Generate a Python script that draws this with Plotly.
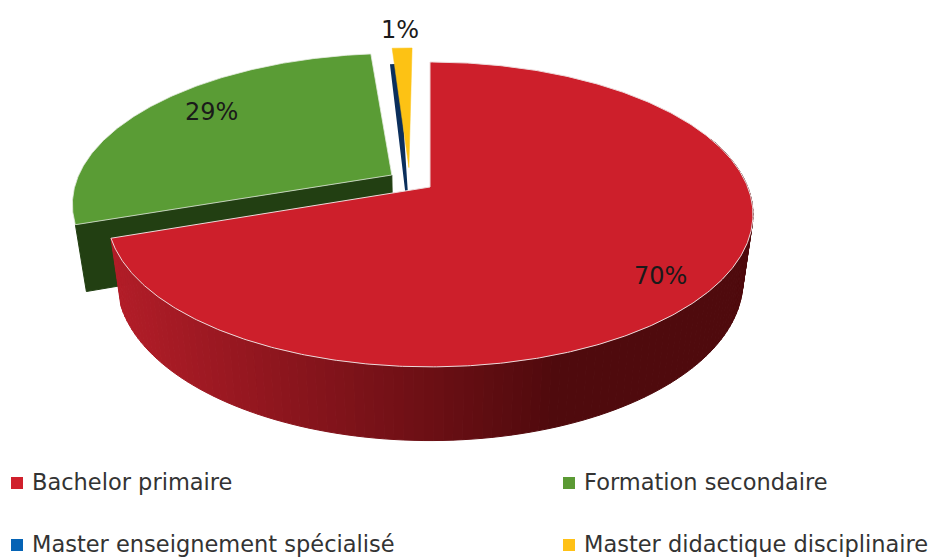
import numpy as np
import plotly.graph_objects as go

categories = ["Bachelor primaire", "Formation secondaire", "Master enseignement spécialisé", "Master didactique disciplinaire"]
values = [69.7, 28.7, 0.4, 1.2]
slice_colors = ["#cd1f2b", "#5a9c35", "#0b2f5c", "#fdc214"]
legend_colors = ["#d0202c", "#5b9a34", "#0563b5", "#ffc116"]
percent_labels = ["70%", "29%", "", "1%"]

# projection constants of the tilted pie (layout, not data)
CX, CY, A, B, K = 430.0, 187.0, 317.7, 147.5, 0.18
S, T = 0.969, 65.0
APEX = [(0.0, 0.0), (-0.122, 0.0825), (-0.0736, -0.03), (-0.068, 0.135)]
TWIST = [0.0, 0.0, 1.8, 0.0]
LABEL_POS = [(660, 276), (211, 112), None, (400, 30)]
LEGEND_POS = [(17, 483), (569, 483), (17, 545), (569, 545)]


def top(u, v):
    w = 1 + K * v
    return CX + A * u / w, CY - B * v / w


def bottom(u, v):
    w = 1 + K * v
    return CX + S * A * u / w, CY - S * B * v / w + T / w


def plane(i, t):
    r = np.radians(t)
    return APEX[i][0] + np.sin(r), APEX[i][1] + np.cos(r)


def side_color(x):
    f = np.clip((x - 115) / (560 - 115), 0, 1)
    c0, c1 = np.array([178, 29, 40]), np.array([79, 10, 13])
    c = c0 + (c1 - c0) * f
    return "rgb(%d,%d,%d)" % tuple(c)


def poly(fig, pts, fill, line=None, width=1):
    xs = [p[0] for p in pts] + [pts[0][0]]
    ys = [p[1] for p in pts] + [pts[0][1]]
    fig.add_trace(go.Scatter(x=xs, y=ys, mode="lines", fill="toself", fillcolor=fill,
                             line=dict(color=line or fill, width=width),
                             hoverinfo="skip", showlegend=False))


edges = np.concatenate([[0], np.cumsum(values)]) * 3.6
fig = go.Figure()


def wedge(i):
    t0, t1 = edges[i] + TWIST[i], edges[i + 1] + TWIST[i]
    ts = np.linspace(t0, t1, max(3, int(t1 - t0) * 2))
    pts = [top(*APEX[i])] + [top(*plane(i, t)) for t in ts]
    return pts


# green cut face
i = 1
u0, v0 = APEX[i]
uc, vc = plane(i, edges[1])
poly(fig, [top(u0, v0), top(uc, vc), bottom(uc, vc), bottom(u0, v0)], "#223f12")
poly(fig, wedge(1), slice_colors[1], "#e4ecdf", 0.8)
poly(fig, wedge(2), slice_colors[2], slice_colors[2], 2.6)
poly(fig, wedge(3), slice_colors[3], slice_colors[3], 0.5)

# red outer wall, one strip per step of the rim
ts = np.arange(70, edges[1] + 0.01, 1.5)
ts = np.append(ts, edges[1])
for a, b in zip(ts[:-1], ts[1:]):
    pa, pb = plane(0, a), plane(0, b)
    quad = [top(*pa), top(*pb), bottom(*pb), bottom(*pa)]
    poly(fig, quad, side_color((quad[0][0] + quad[1][0]) / 2))

poly(fig, wedge(0), slice_colors[0], "#eed9da", 1)

# legend
for cat, col, (lx, ly) in zip(categories, legend_colors, LEGEND_POS):
    fig.add_trace(go.Scatter(x=[lx], y=[ly], mode="markers",
                             marker=dict(symbol="square", size=12, color=col),
                             hoverinfo="skip", showlegend=False))
    fig.add_annotation(x=lx + 13, y=ly - 1, text=cat, showarrow=False, xanchor="left", yanchor="middle",
                       font=dict(family="DejaVu Sans", size=22.5, color="#333333"))

for lab, pos in zip(percent_labels, LABEL_POS):
    if pos:
        fig.add_annotation(x=pos[0], y=pos[1], text=lab, showarrow=False,
                           font=dict(family="DejaVu Sans", size=24, color="#1a1a1a"))

fig.update_layout(width=932, height=557, margin=dict(l=0, r=0, t=0, b=0),
                  paper_bgcolor="white", plot_bgcolor="white", showlegend=False,
                  xaxis=dict(range=[0, 932], visible=False, fixedrange=True),
                  yaxis=dict(range=[557, 0], visible=False, fixedrange=True))
fig.write_html("out.html", config={"displayModeBar": False},
               post_script="document.body.style.margin='0';document.body.style.overflow='hidden';")
